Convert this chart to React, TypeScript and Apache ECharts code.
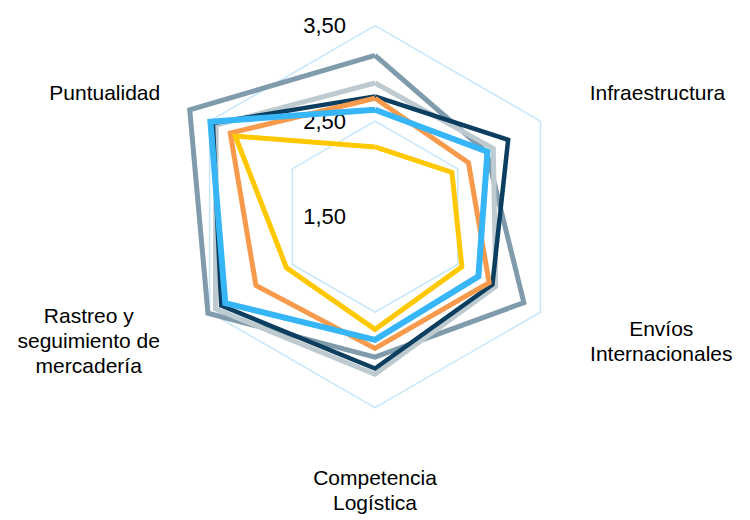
import React, { useEffect, useRef } from "react";
import * as echarts from "echarts";

// Indicator order as ECharts lays them out (counter-clockwise from the top)
const indicatorNames = [
  "",
  "Puntualidad",
  "Rastreo y\nseguimiento de\nmercadería",
  "Competencia\nLogística",
  "Envíos\nInternacionales",
  "Infraestructura",
];

const axisMin = 1.5;
const axisMax = 3.5;
const splitCount = 2;

// Series values, same order as indicatorNames
const seriesGreyBlue = [3.19, 3.74, 3.52, 2.97, 3.3, 2.85];
const seriesLightGrey = [2.9, 3.42, 3.43, 3.15, 2.96, 2.93];
const seriesNavy = [2.76, 3.46, 3.36, 3.09, 2.92, 3.11];
const seriesOrange = [2.74, 3.25, 2.94, 2.88, 2.88, 2.63];
const seriesYellow = [2.23, 3.19, 2.57, 2.68, 2.55, 2.43];
const seriesBlue = [2.62, 3.49, 3.31, 2.79, 2.75, 2.86];

const seriesList = [
  { name: "Serie 1", values: seriesGreyBlue, color: "#7F9BAC", width: 5 },
  { name: "Serie 2", values: seriesLightGrey, color: "#BDCAD0", width: 5 },
  { name: "Serie 3", values: seriesNavy, color: "#0C3F5F", width: 4.5 },
  { name: "Serie 4", values: seriesOrange, color: "#F79A4B", width: 5 },
  { name: "Serie 5", values: seriesYellow, color: "#FFC800", width: 5 },
  { name: "Serie 6", values: seriesBlue, color: "#36B5F7", width: 6 },
];

const FONT = "'Liberation Sans', Arial, Helvetica, sans-serif";

export default function App() {
  const ref = useRef<HTMLDivElement>(null);

  useEffect(() => {
    if (!ref.current) return;
    const chart = echarts.init(ref.current, null, { renderer: "svg" });
    const option = {
      animation: false,
      backgroundColor: "#ffffff",
      radar: {
        center: [375, 216.7],
        radius: 191,
        startAngle: 90,
        shape: "polygon",
        splitNumber: splitCount,
        nameGap: 57,
        axisName: {
          color: "#000000",
          fontSize: 21,
          fontFamily: FONT,
          lineHeight: 25,
          formatter: (name: string) => {
            if (!name.includes("\n")) return name;
            return name
              .split("\n")
              .map((l) => `{w|${l}}`)
              .join("\n");
          },
          rich: {
            w: {
              width: 143,
              align: "center",
              fontSize: 21,
              fontFamily: FONT,
              lineHeight: 25,
              color: "#000000",
            },
          },
        },
        axisLine: { show: false },
        axisTick: { show: false },
        splitArea: { show: false },
        splitLine: { lineStyle: { color: "#C6E7FA", width: 1.5 } },
        axisLabel: { show: false },
        indicator: indicatorNames.map((n, i) => ({
          name: n,
          min: axisMin,
          max: axisMax,
          ...(i === 0
            ? {
                axisLabel: {
                  show: true,
                  margin: 29,
                  color: "#000000",
                  fontSize: 22,
                  fontFamily: FONT,
                  formatter: (v: number) => v.toFixed(2).replace(".", ","),
                },
              }
            : {}),
        })),
      },
      series: [
        {
          type: "radar",
          symbol: "none",
          data: seriesList.map((s) => ({
            name: s.name,
            value: s.values,
            lineStyle: { color: s.color, width: s.width, join: "miter" },
            itemStyle: { color: s.color },
          })),
        },
      ],
    };
    chart.setOption(option as any);
    return () => chart.dispose();
  }, []);

  return (
    <div
      ref={ref}
      style={{ position: "absolute", left: 0, top: 0, width: 750, height: 520 }}
    />
  );
}
